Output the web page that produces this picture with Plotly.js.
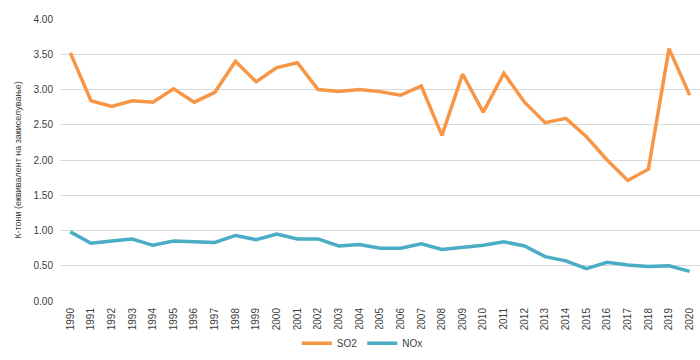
<!DOCTYPE html>
<html>
<head>
<meta charset="utf-8">
<script src="https://cdn.plot.ly/plotly-3.0.1.min.js"></script>
<style>html,body{margin:0;padding:0;background:#fff}#chart{width:700px;height:360px}</style>
</head>
<body>
<div id="chart"></div>
<script>
const years = ["1990","1991","1992","1993","1994","1995","1996","1997","1998","1999","2000","2001","2002","2003","2004","2005","2006","2007","2008","2009","2010","2011","2012","2013","2014","2015","2016","2017","2018","2019","2020"];
const so2 = [3.52,2.84,2.76,2.84,2.82,3.01,2.82,2.96,3.40,3.11,3.31,3.38,3.00,2.97,3.00,2.97,2.92,3.05,2.35,3.22,2.68,3.23,2.82,2.53,2.59,2.33,2.00,1.71,1.87,3.58,2.92];
const nox = [0.98,0.82,0.85,0.88,0.79,0.85,0.84,0.83,0.93,0.87,0.95,0.88,0.88,0.78,0.80,0.75,0.75,0.81,0.73,0.76,0.79,0.84,0.78,0.63,0.57,0.46,0.55,0.51,0.49,0.50,0.42];
const yTicks = [0,0.5,1,1.5,2,2.5,3,3.5,4];
const yTitle = "К-тони (еквивалент на закиселување)";

const traces = [
  {x: years, y: so2, name: "SO2", type: "scatter", mode: "lines", line: {color: "#F79646", width: 3.5}},
  {x: years, y: nox, name: "NOx", type: "scatter", mode: "lines", line: {color: "#4BACC6", width: 3.5}}
];
const layout = {
  width: 700, height: 360,
  margin: {l: 60, r: 0, t: 19, b: 59},
  paper_bgcolor: "#fff", plot_bgcolor: "#fff",
  font: {family: "Liberation Sans, Arial, sans-serif", size: 10, color: "#404040"},
  showlegend: true,
  legend: {orientation: "h", x: 0.37, xanchor: "left", y: -0.15, yanchor: "middle", font: {size: 10, color: "#404040"}, itemwidth: 30, tracegroupgap: 0},
  xaxis: {type: "category", range: [-0.5, years.length - 0.5], tickangle: -90, showgrid: false, showline: false, ticks: "", ticklabelstandoff: 4, tickfont: {size: 10, color: "#404040"}, fixedrange: true},
  yaxis: {range: [0, 4], tickvals: yTicks, tickformat: ".2f", showgrid: true, gridcolor: "#d9d9d9", gridwidth: 1, zeroline: false, showline: false, ticks: "", ticklabelstandoff: 6, tickfont: {size: 10, color: "#404040"},
          title: {text: yTitle, font: {size: 9, color: "#404040"}, standoff: 10}}
};
Plotly.newPlot("chart", traces, layout, {displayModeBar: false, staticPlot: true});
</script>
</body>
</html>
